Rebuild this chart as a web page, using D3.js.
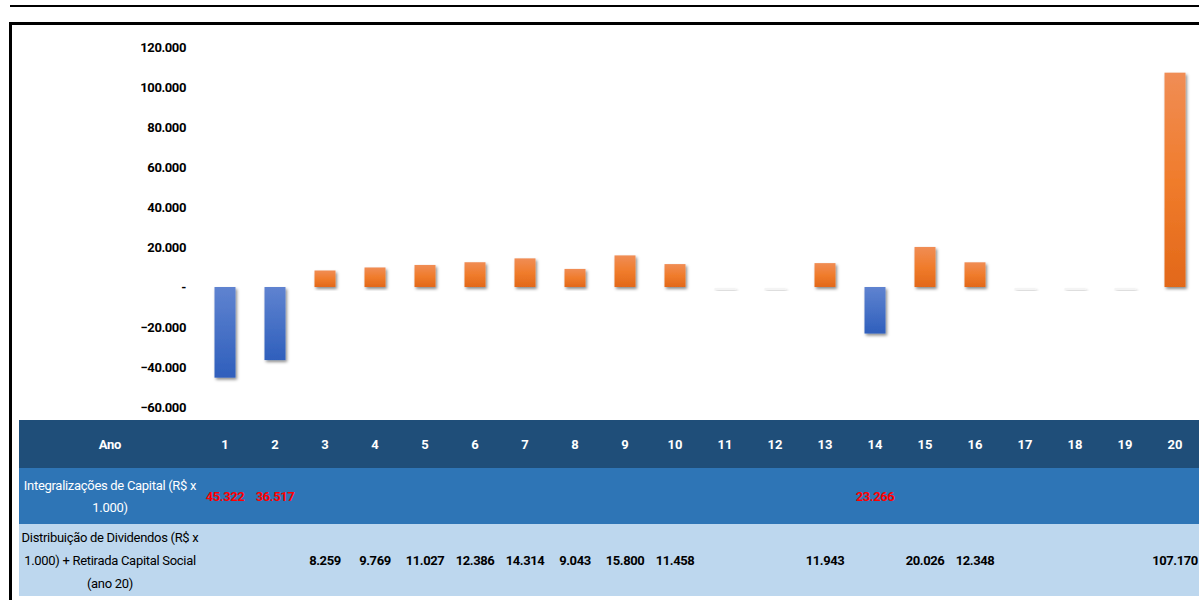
<!DOCTYPE html>
<html lang="pt-BR">
<head>
    <meta charset="UTF-8">
    <title>Integralizações e Dividendos</title>
    <style>
        body { margin: 0; background: #fff; }
        svg { display: block; }
        text { font-family: Roboto, "Liberation Sans", sans-serif; }
    </style>
    <script src="https://d3js.org/d3.v7.min.js"></script>
</head>
<body>
<div id="chart"></div>
<script>
    // Dados (R$ x 1.000)
    const anos = [1, 2, 3, 4, 5, 6, 7, 8, 9, 10, 11, 12, 13, 14, 15, 16, 17, 18, 19, 20];
    const integralizacoes = [45322, 36517, null, null, null, null, null, null, null, null, null, null, null, 23266, null, null, null, null, null, null];
    const dividendos = [null, null, 8259, 9769, 11027, 12386, 14314, 9043, 15800, 11458, null, null, 11943, null, 20026, 12348, null, null, null, 107170];
    const yTicks = [-60000, -40000, -20000, 0, 20000, 40000, 60000, 80000, 100000, 120000];
    const rowLabels = [
        ["Ano"],
        ["Integralizações de Capital (R$ x", "1.000)"],
        ["Distribuição de Dividendos (R$ x", "1.000) + Retirada Capital Social", "(ano 20)"]
    ];

    const W = 1199, H = 600;
    const br = d3.formatLocale({ decimal: ",", thousands: ".", grouping: [3], currency: ["R$", ""] });
    const fmtInt = br.format(",d");
    const fmt = v => v === 0 ? "-" : fmtInt(v);

    const svg = d3.select("#chart").append("svg")
        .attr("width", W).attr("height", H);

    const defs = svg.append("defs");
    const gOr = defs.append("linearGradient").attr("id", "gOrange").attr("x1", 0).attr("y1", 0).attr("x2", 0).attr("y2", 1);
    gOr.append("stop").attr("offset", "0%").attr("stop-color", "#f08d55");
    gOr.append("stop").attr("offset", "50%").attr("stop-color", "#f07c2c");
    gOr.append("stop").attr("offset", "100%").attr("stop-color", "#e26819");
    const gBl = defs.append("linearGradient").attr("id", "gBlue").attr("x1", 0).attr("y1", 0).attr("x2", 0).attr("y2", 1);
    gBl.append("stop").attr("offset", "0%").attr("stop-color", "#5f83d0");
    gBl.append("stop").attr("offset", "100%").attr("stop-color", "#2f5fbc");
    const sh = defs.append("filter").attr("id", "shadow").attr("x", "-30%").attr("y", "-10%").attr("width", "160%").attr("height", "130%");
    sh.append("feDropShadow").attr("dx", 1.5).attr("dy", 2).attr("stdDeviation", 1.5)
        .attr("flood-color", "#000").attr("flood-opacity", 0.45);

    // frame
    svg.append("line").attr("x1", 10).attr("x2", W).attr("y1", 6).attr("y2", 6)
        .attr("stroke", "#000").attr("stroke-width", 2);
    svg.append("path").attr("d", `M10.5,${H} V23.5 H${W}`)
        .attr("fill", "none").attr("stroke", "#000").attr("stroke-width", 3);

    // scales
    const x = d3.scaleBand().domain(anos).range([200, 1200]).paddingInner(0.58).paddingOuter(0.29);
    const y = d3.scaleLinear().domain([-60000, 120000]).range([407, 47]);

    // y axis
    const yAxis = svg.append("g").attr("transform", "translate(186,0)")
        .call(d3.axisLeft(y).tickValues(yTicks).tickFormat(fmt).tickSize(0).tickPadding(0));
    yAxis.select(".domain").remove();
    yAxis.selectAll("text")
        .attr("font-family", null)
        .style("font-size", "13px").style("font-weight", "bold")
        .style("letter-spacing", "-0.4px").attr("fill", "#000");

    // bar values
    const barData = anos.map((a, i) => ({
        ano: a,
        v: integralizacoes[i] != null ? -integralizacoes[i] : (dividendos[i] != null ? dividendos[i] : 0)
    }));

    // zero-value ghosts
    svg.selectAll(".ghost").data(barData.filter(d => d.v === 0)).enter().append("rect")
        .attr("x", d => x(d.ano)).attr("width", x.bandwidth())
        .attr("y", y(0) + 1).attr("height", 2)
        .attr("fill", "#eeeeee").attr("filter", "url(#shadow)").attr("opacity", 0.6);

    svg.selectAll(".bar").data(barData.filter(d => d.v !== 0)).enter().append("rect")
        .attr("class", "bar")
        .attr("x", d => x(d.ano)).attr("width", x.bandwidth())
        .attr("y", d => y(Math.max(0, d.v)))
        .attr("height", d => Math.abs(y(d.v) - y(0)))
        .attr("fill", d => d.v < 0 ? "url(#gBlue)" : "url(#gOrange)")
        .attr("filter", "url(#shadow)");

    // table
    const rows = [
        { y0: 420, y1: 468, fill: "#1f4e79" },
        { y0: 468, y1: 524, fill: "#2e75b6" },
        { y0: 524, y1: 596, fill: "#bdd7ee" }
    ];
    const tbl = svg.append("g");
    tbl.selectAll("rect").data(rows).enter().append("rect")
        .attr("x", 19).attr("width", W - 19)
        .attr("y", d => d.y0).attr("height", d => d.y1 - d.y0)
        .attr("fill", d => d.fill);

    const cx = d => x(d) + x.bandwidth() / 2;

    // row labels
    const labelColors = ["#fff", "#fff", "#000"];
    const lineH = [0, 22, 23];
    rowLabels.forEach((lines, r) => {
        const mid = (rows[r].y0 + rows[r].y1) / 2;
        lines.forEach((t, k) => {
            tbl.append("text")
                .attr("x", 110)
                .attr("y", mid + (k - (lines.length - 1) / 2) * lineH[r])
                .attr("dy", "0.35em")
                .attr("text-anchor", "middle")
                .attr("fill", labelColors[r])
                .style("font-size", "13px")
                .style("letter-spacing", "-0.3px")
                .style("font-weight", r === 0 ? "bold" : "normal")
                .text(t);
        });
    });

    // header years
    tbl.selectAll(".yr").data(anos).enter().append("text")
        .attr("x", d => cx(d)).attr("y", 444).attr("dy", "0.35em")
        .attr("text-anchor", "middle").attr("fill", "#fff")
        .style("font-size", "13px").style("font-weight", "bold")
        .text(d => d);

    // integralizações (red)
    tbl.selectAll(".int").data(anos.filter((a, i) => integralizacoes[i] != null)).enter().append("text")
        .attr("x", d => cx(d)).attr("y", 496).attr("dy", "0.35em")
        .attr("text-anchor", "middle").attr("fill", "#ff0000")
        .style("font-size", "13px").style("font-weight", "bold").style("letter-spacing", "-0.4px")
        .text(d => fmtInt(integralizacoes[d - 1]));

    // dividendos
    tbl.selectAll(".div").data(anos.filter((a, i) => dividendos[i] != null)).enter().append("text")
        .attr("x", d => cx(d)).attr("y", 560).attr("dy", "0.35em")
        .attr("text-anchor", "middle").attr("fill", "#000")
        .style("font-size", "13px").style("font-weight", "bold").style("letter-spacing", "-0.4px")
        .text(d => fmtInt(dividendos[d - 1]));
</script>
</body>
</html>
